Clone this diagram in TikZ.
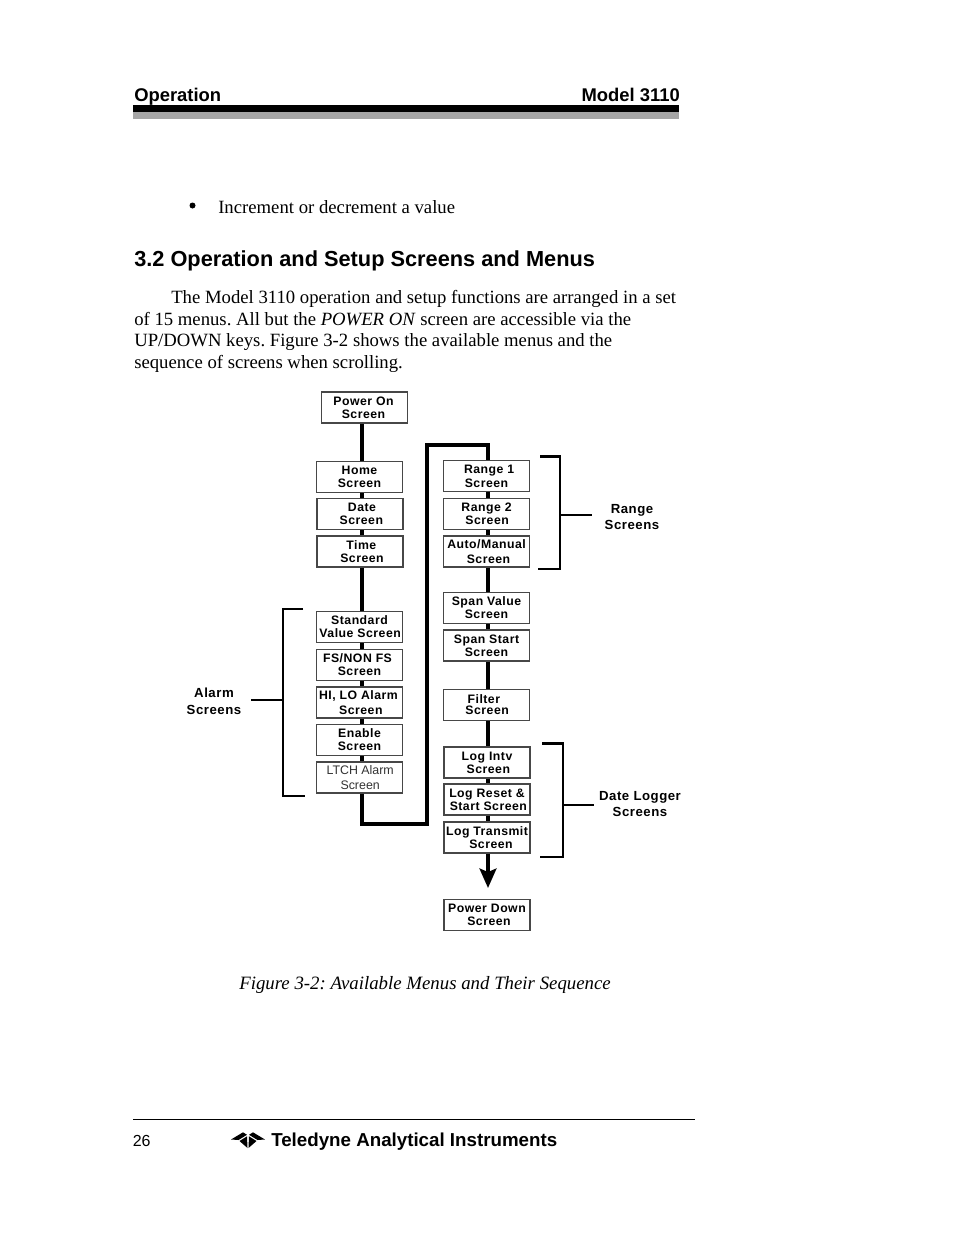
\documentclass[tikz,border=0pt]{standalone}
\usepackage{fontspec}
\setmainfont{Liberation Serif}
\newfontfamily\headfont{Liberation Sans}
\newfontfamily\figfont[LetterSpace=4]{Liberation Sans}
\usetikzlibrary{arrows.meta}

\newcommand{\sh}[1]{\hspace*{#1pt}}

\begin{document}
\frenchspacing
\begin{tikzpicture}[x=0.75pt, y=-0.75pt, >=stealth,
    screenbox/.style={draw=black!72, line width=1.1pt, fill=white, minimum width=64.8pt, minimum height=23pt,
      inner sep=0pt, align=center, font=\figfont\bfseries\fontsize{9.2}{9.9}\selectfont},
    plainbox/.style={screenbox, font=\headfont\fontsize{9.3}{10.6}\selectfont, text=black!80},
    grouplabel/.style={inner sep=0pt, align=center, font=\figfont\bfseries\fontsize{9.9}{12.6}\selectfont},
    link/.style={line width=2.9pt},
    brace/.style={line width=2.2pt},
    bodytext/.style={anchor=base west, inner sep=0pt, font=\fontsize{14.03}{16}\selectfont},
    headtext/.style={inner sep=0pt, font=\headfont\bfseries\fontsize{13.8}{16}\selectfont}]
  \useasboundingbox (0,0) rectangle (954,1235);
  %--- Page header
  \node[headtext, anchor=base west] (oper) at (134,101) {Operation};
  \node[headtext, anchor=base east] (model) at (680,101) {Model 3110};
  \fill[black] (133,105) rectangle (679,112);
  \fill[black!35] (133,112) rectangle (679,119);
  %--- Page text
  \fill (192.5,205.5) circle (3);
  \node[bodytext] (incr) at (218,213) {Increment or decrement a value};
  \node[headtext, anchor=base west, font=\headfont\bfseries\fontsize{16.32}{18}\selectfont] (sect) at (134,266)
    {3.2 Operation and Setup Screens and Menus};
  \node[bodytext] (para1) at (171,303) {The Model 3110 operation and setup functions are arranged in a set};
  \node[bodytext] (para2) at (134,325) {of 15 menus. All but the \textit{POWER ON} screen are accessible via the};
  \node[bodytext] (para3) at (134,346) {UP/DOWN keys. Figure 3-2 shows the available menus and the};
  \node[bodytext] (para4) at (134,368) {sequence of screens when scrolling.};
  %--- Left column
  \node[screenbox] (power) at (364.5,407.5) {\sh{-1.5}Power On\\\sh{-1.5}Screen};
  \node[screenbox] (home) at (359.5,477) {Home\\Screen};
  \node[screenbox] (date) at (360,514) {\sh{3}Date\\\sh{2}Screen};
  \node[screenbox] (time) at (360,551.5) {\sh{2}Time\\\sh{3}Screen};
  \node[screenbox] (std) at (359.5,627) {Standard\\\sh{1}Value\hspace{3pt}Screen};
  \node[screenbox] (fsnon) at (359.5,665) {\sh{-3}FS/NON FS\\Screen};
  \node[screenbox] (hilo) at (359.5,702.5) {\sh{-1.5}HI, LO Alarm\\[0.8pt]\sh{2}Screen};
  \node[screenbox] (enable) at (359.5,740) {Enable\\Screen};
  \node[plainbox] (ltch) at (359.5,777.5) {\sh{1}LTCH Alarm\\\sh{1}Screen};
  %--- Right column
  \node[screenbox] (range1) at (486.5,476) {\sh{4}Range 1\\[0.8pt]Screen};
  \node[screenbox] (range2) at (486.5,514) {Range 2\\\sh{1}Screen};
  \node[screenbox] (auto) at (486.5,551.5) {Auto/Manual\\[0.8pt]\sh{3}Screen};
  \node[screenbox] (spanv) at (486.5,608) {Span Value\\Screen};
  \node[screenbox] (spans) at (486.5,645.5) {Span Start\\Screen};
  \node[screenbox] (filter) at (486.5,705) {\sh{-4}Filter\\[-1.5pt]\sh{1}Screen};
  \node[screenbox] (logint) at (487,762.5) {Log Intv\\\sh{2}Screen};
  \node[screenbox] (logres) at (487,799.5) {Log Reset \&\\\sh{2}Start Screen};
  \node[screenbox] (logtra) at (487,837.5) {Log Transmit\\\sh{6}Screen};
  \node[screenbox] (pdown) at (487,915) {Power Down\\\sh{3}Screen};
  %--- Chain lines
  \coordinate (leftrun) at (362,0);
  \coordinate (rightrun) at (488,0);
  \coordinate (loopbot) at (427,824);
  \coordinate (looptop) at (427,445);
  \coordinate (downtip) at (488,888);
  \draw[link] (power.south -| leftrun) -- (home.north -| leftrun);
  \draw[link] (home.south -| leftrun) -- (date.north -| leftrun);
  \draw[link] (date.south -| leftrun) -- (time.north -| leftrun);
  \draw[link] (time.south -| leftrun) -- (std.north -| leftrun);
  \draw[link] (std.south -| leftrun) -- (fsnon.north -| leftrun);
  \draw[link] (fsnon.south -| leftrun) -- (hilo.north -| leftrun);
  \draw[link] (hilo.south -| leftrun) -- (enable.north -| leftrun);
  \draw[link] (enable.south -| leftrun) -- (ltch.north -| leftrun);
  \draw[link] (ltch.south -| leftrun) |- (loopbot) -- (looptop) -| (range1.north -| rightrun);
  \draw[link] (range1.south -| rightrun) -- (range2.north -| rightrun);
  \draw[link] (range2.south -| rightrun) -- (auto.north -| rightrun);
  \draw[link] (auto.south -| rightrun) -- (spanv.north -| rightrun);
  \draw[link] (spanv.south -| rightrun) -- (spans.north -| rightrun);
  \draw[link] (spans.south -| rightrun) -- (filter.north -| rightrun);
  \draw[link] (filter.south -| rightrun) -- (logint.north -| rightrun);
  \draw[link] (logint.south -| rightrun) -- (logres.north -| rightrun);
  \draw[link] (logres.south -| rightrun) -- (logtra.north -| rightrun);
  \draw[link, -{Stealth[length=14.5pt, width=12.5pt, inset=2.5pt]}] (logtra.south -| rightrun) -- (downtip);
  %--- Alarm bracket
  \node[grouplabel] (alarm) at (214,701) {Alarm\\Screens};
  \draw[brace] (303,609) -- (283,609) -- (283,796) -- (305,796);
  \coordinate (alarmmid) at (283,700);
  \draw[brace] (alarmmid) -- (251,700);
  %--- Range bracket
  \node[grouplabel] (rangelab) at (632,517) {Range\\Screens};
  \draw[brace] (540,456.5) -- (560,456.5) -- (560,569) -- (538,569);
  \coordinate (rangemid) at (560,515);
  \draw[brace] (rangemid) -- (592,515);
  %--- Data logger bracket
  \node[grouplabel] (loglab) at (640,804) {Date Logger\\Screens};
  \draw[brace] (542,743.5) -- (563,743.5) -- (563,857) -- (540,857);
  \coordinate (logmid) at (563,805);
  \draw[brace] (logmid) -- (594,805);
  %--- Caption
  \node[bodytext, font=\fontsize{14.12}{16}\selectfont] (figcap) at (239,989) {\textit{Figure 3-2: Available Menus and Their Sequence}};
  %--- Page footer
  \draw[line width=0.6pt] (133,1119) -- (695,1119);
  \node[anchor=base west, inner sep=0pt, font=\headfont\fontsize{12}{14}\selectfont] (pageno) at (132.5,1146) {26};
  \node[headtext, font=\headfont\bfseries\fontsize{14.05}{16}\selectfont, anchor=base west] (maker) at (271,1146) {Teledyne Analytical Instruments};
  %--- Logo
  \fill (231,1139.5) -- (243,1132.3) -- (247,1134.8) -- (238.5,1140) -- cycle;
  \fill (265,1139.5) -- (253,1132.3) -- (249,1134.8) -- (257.5,1140) -- cycle;
  \fill (239.5,1141) -- (247,1136.3) -- (247.5,1148) -- cycle;
  \fill (256.5,1141) -- (249,1136.3) -- (248.5,1148) -- cycle;
\end{tikzpicture}
\end{document}
